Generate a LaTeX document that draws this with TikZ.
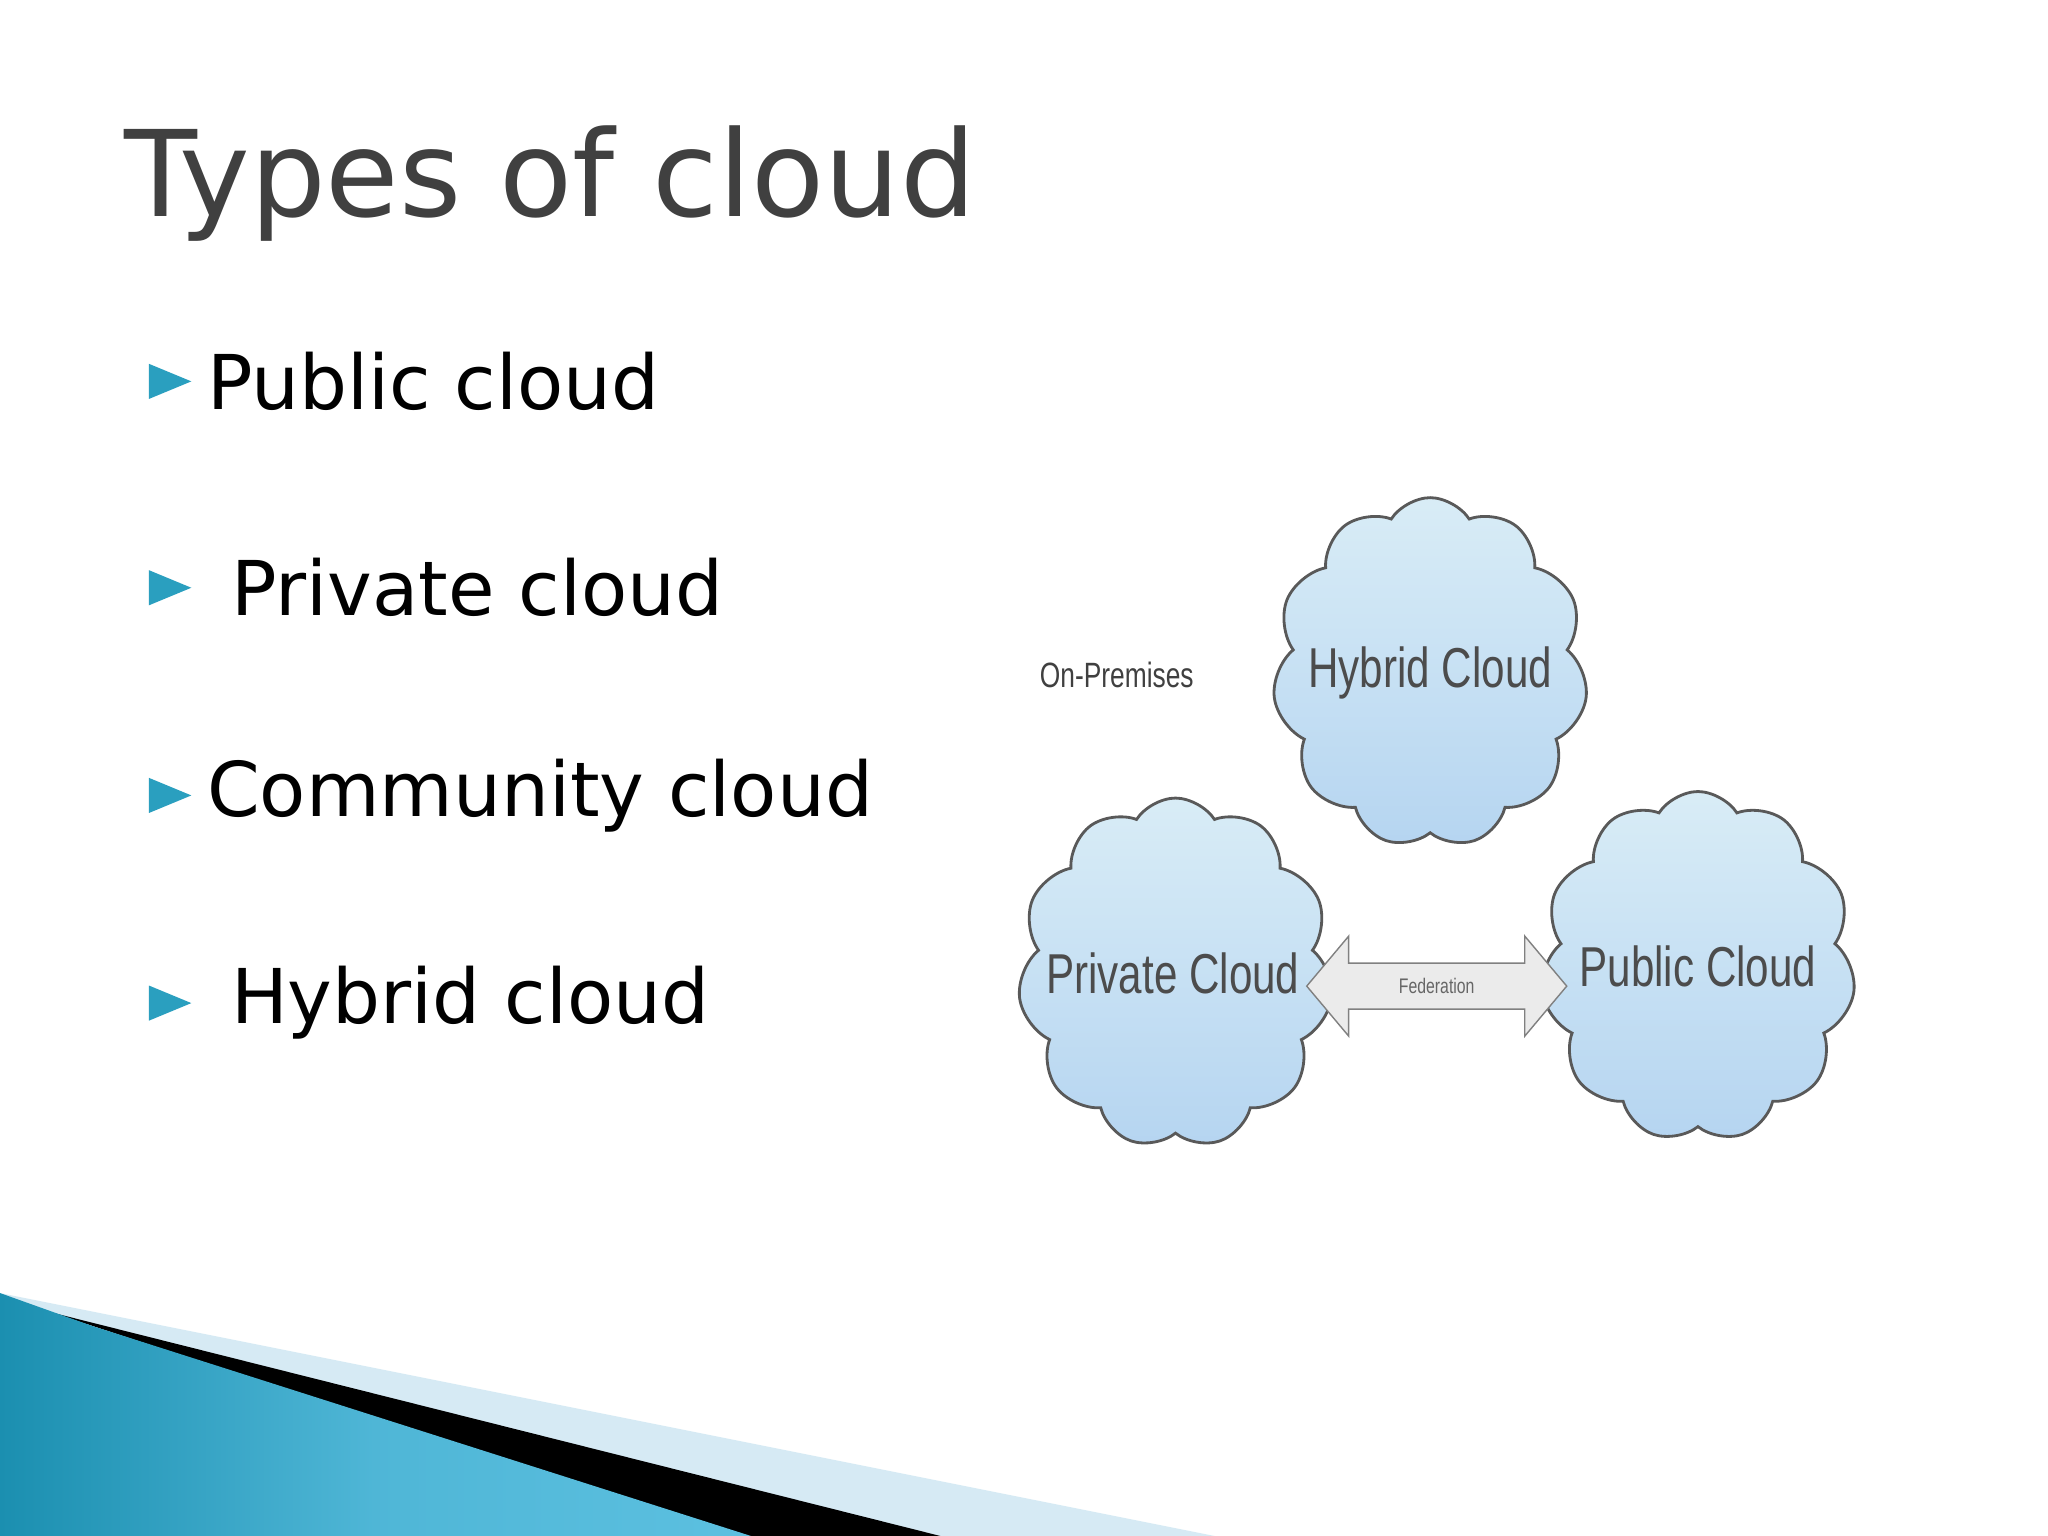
\documentclass[tikz,border=0pt]{standalone}
\usepackage{fontspec}
\setmainfont{DejaVu Sans}
\newfontfamily\cond{Liberation Sans}[FakeStretch=0.75]
\usetikzlibrary{shapes.symbols,shapes.arrows,shapes.geometric}
\definecolor{teal1}{HTML}{1B8FB0}
\definecolor{teal2}{HTML}{5CC0E0}
\definecolor{lightb}{HTML}{D6EAF4}
\definecolor{bul}{HTML}{2A9FBF}
\definecolor{cloudfill}{HTML}{BFE0F0}
\begin{document}
\begin{tikzpicture}[x=0.01306cm,y=-0.01306cm,
  bullettext/.style={anchor=west,font=\fontsize{21.5}{24}\selectfont,text=black,inner sep=0},
  bulmark/.style={isosceles triangle,fill=bul,minimum height=8pt,minimum width=10pt,inner sep=0},
  cloudbox/.style={cloud,cloud puffs=11,cloud puff arc=115,draw=gray!70!black,line width=0.8pt,
     top color=cloudfill!60!white,bottom color=cloudfill!95!blue,aspect=0.9,inner sep=0,
     minimum width=3.15cm,minimum height=3.5cm},
  cloudlabel/.style={font=\cond\fontsize{16}{18}\selectfont,text=black!70}]
\useasboundingbox (0,0) rectangle (1568,1176);
\fill[white] (0,0) rectangle (1568,1176);
% title
\node[anchor=base west,inner sep=0,text=black!75,font=\fontsize{34}{38}\selectfont] (title) at (95,166) {Types of cloud};
% bullets
\foreach \y/\t/\n in {292/Public cloud/a,450/{\ Private cloud}/b,609/Community cloud/c,768/{\ Hybrid cloud}/d}{
  \node[bulmark] (m\n) at (123,\y) {};
  \node[bullettext] (t\n) at (158,\y) {\t};
}
% clouds
\node[cloudbox] (hyb) at (1095,515) {};
\node[cloudbox] (pri) at (900,745) {};
\node[cloudbox] (pub) at (1300,740) {};
\node[cloudlabel] (lh) at (1095,515) {Hybrid Cloud};
\node[cloudlabel] (lp) at (898,745) {Private Cloud};
\node[cloudlabel] (lu) at (1300,740) {Public Cloud};
\node[font=\cond\fontsize{10}{12}\selectfont,text=black!75] (onp) at (855,517) {On-Premises};
\node[double arrow,double arrow head extend=4pt,draw=gray,fill=black!8,minimum height=2.6cm,minimum width=1cm,inner sep=1pt,font=\cond\fontsize{6}{7}\selectfont,text=black!60,shape border uses incircle=false,double arrow tip angle=100] (fed) at (1100,755) {Federation};
% swoosh
\fill[lightb] (0,990) -- (930,1176) -- (0,1176) -- cycle;
\fill[black] (40,1005) -- (720,1176) -- (560,1176) -- cycle;
\shade[left color=teal1,right color=teal2,middle color=teal2!80!teal1] (0,990) -- (70,1015) -- (575,1176) -- (0,1176) -- cycle;
\end{tikzpicture}
\end{document}
